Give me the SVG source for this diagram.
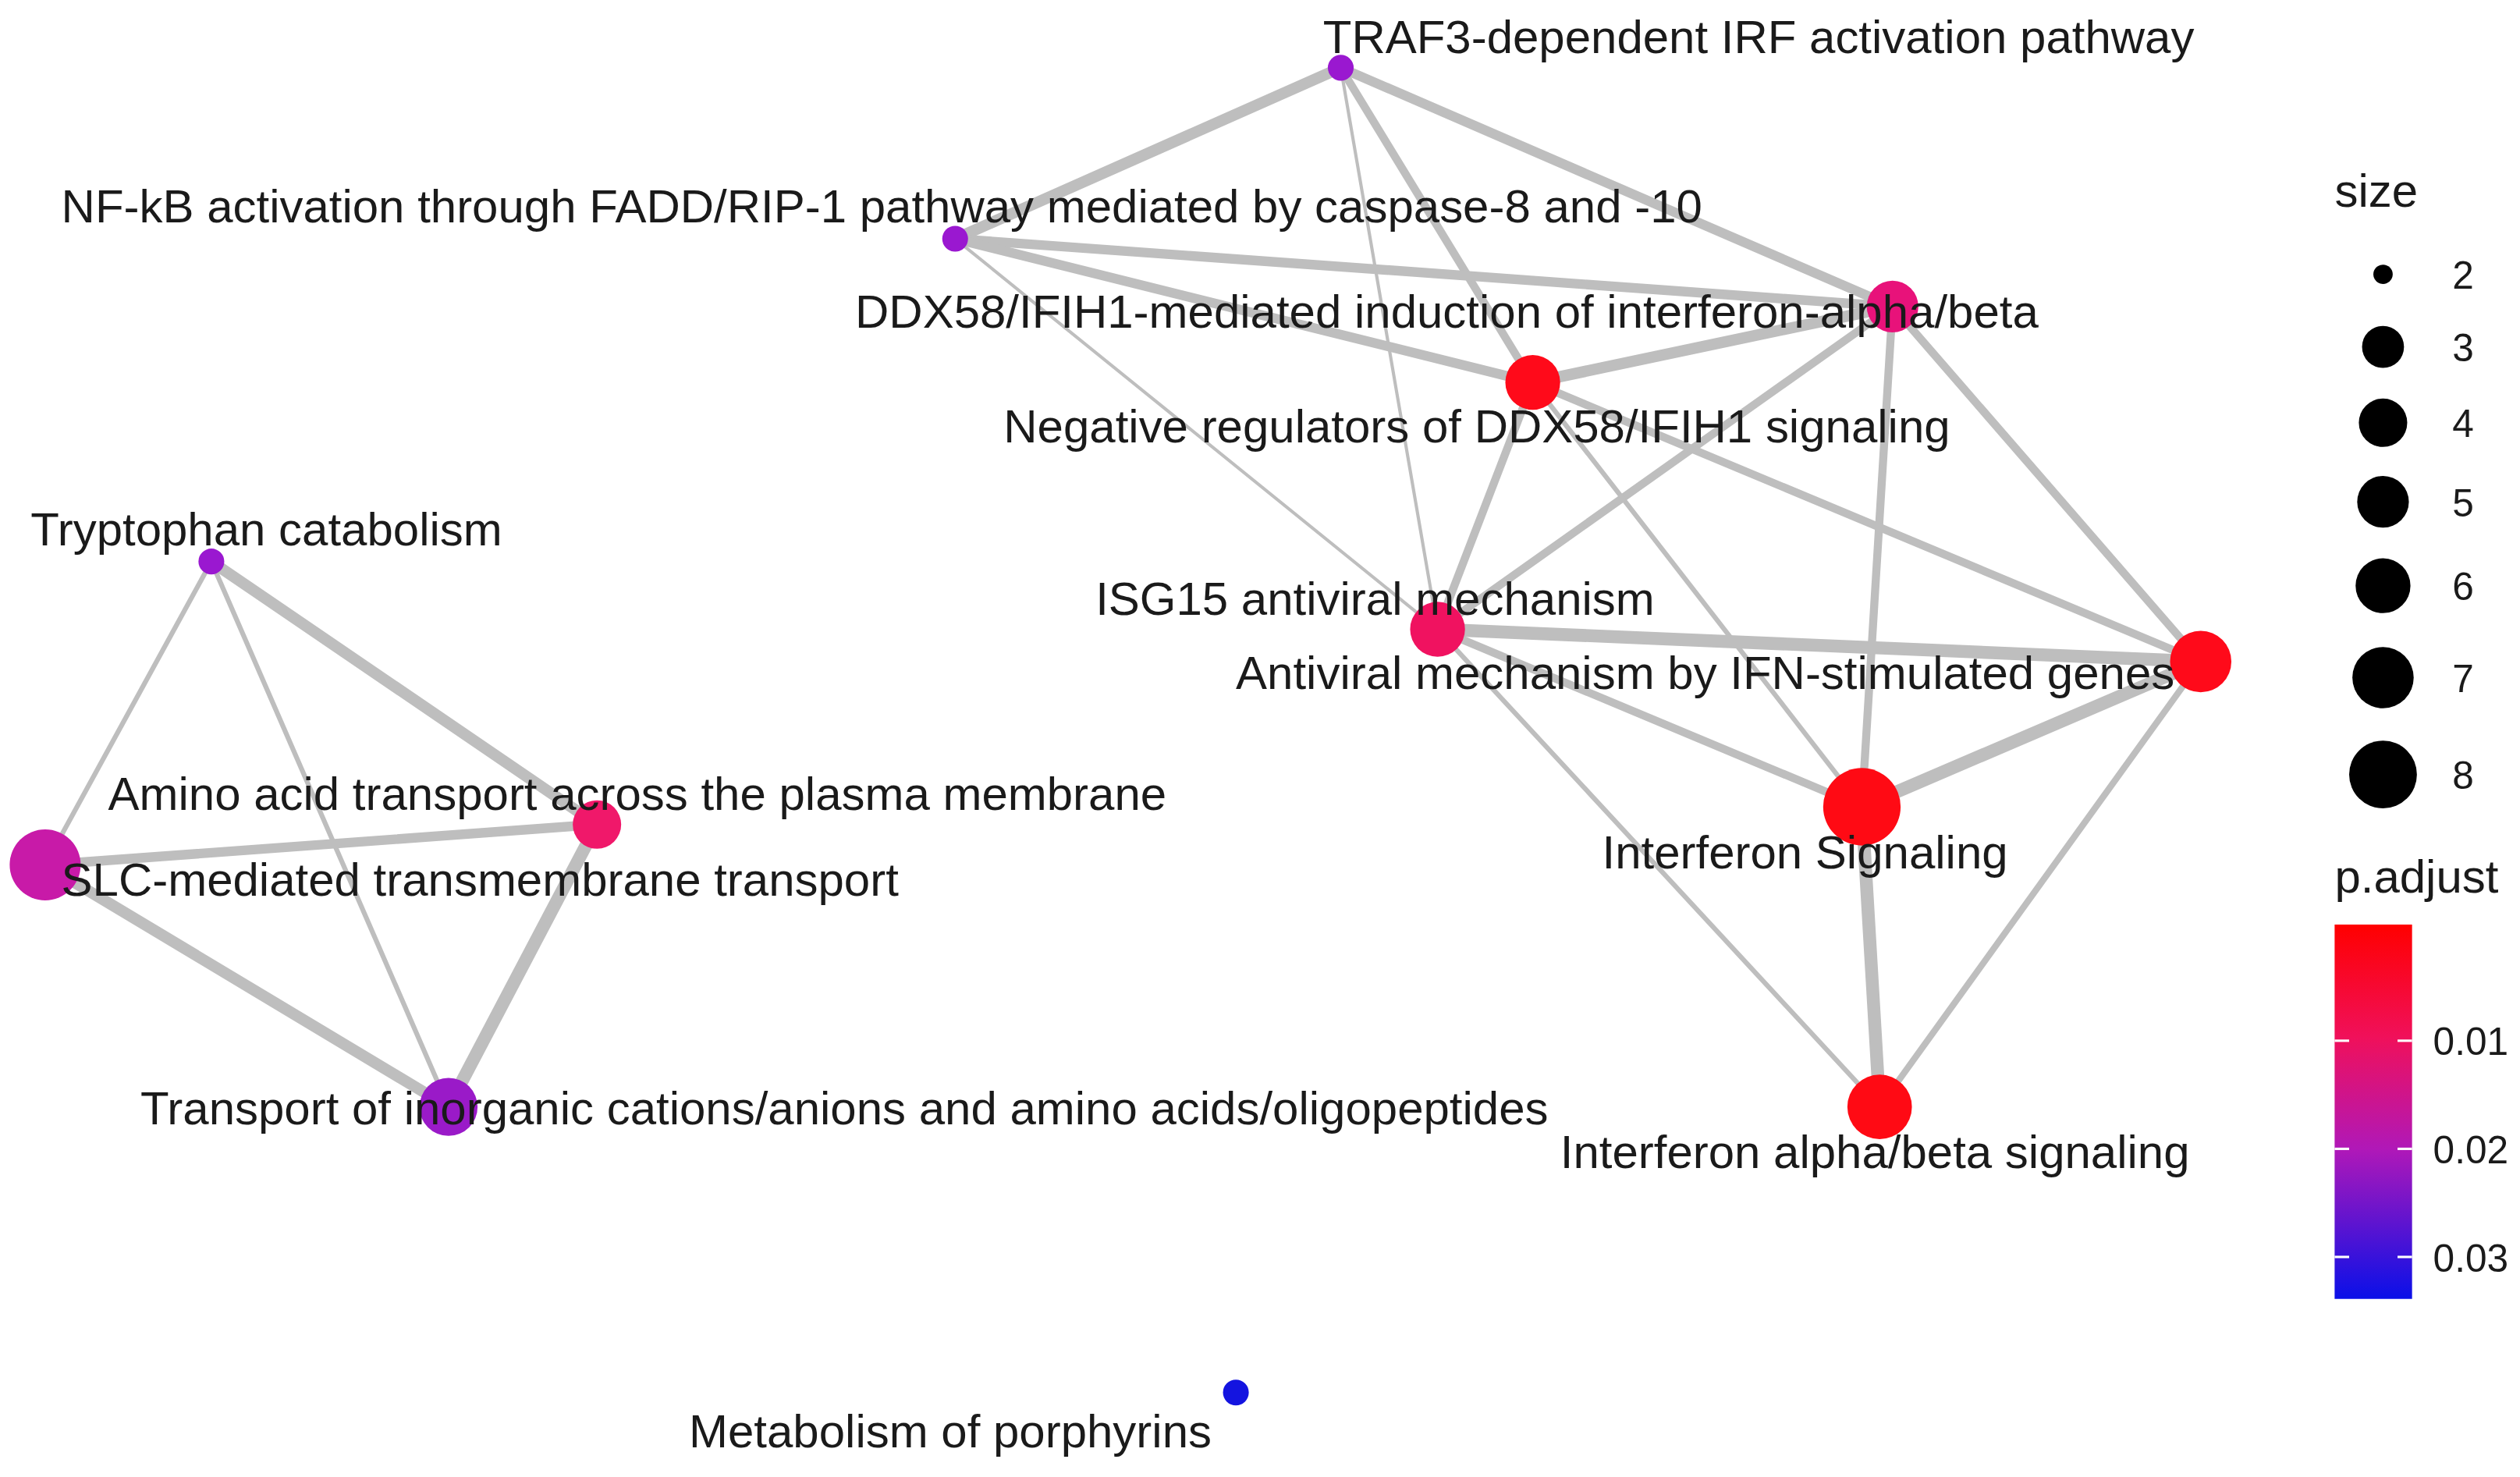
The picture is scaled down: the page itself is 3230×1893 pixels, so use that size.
<svg xmlns="http://www.w3.org/2000/svg" width="3230" height="1893" viewBox="0 0 3230 1893">
<style>
.e{stroke:#bebebe;fill:none;stroke-linecap:round}
.t{font-family:"Liberation Sans",Arial,sans-serif;font-size:29px;fill:#1a1a1a}
.l{font-family:"Liberation Sans",Arial,sans-serif;font-size:24px;fill:#1a1a1a}
</style>
<defs>
<linearGradient id="pg" x1="0" y1="0" x2="0" y2="1">
<stop offset="0" stop-color="#ff0000"/><stop offset="0.3" stop-color="#f0105a"/><stop offset="0.6" stop-color="#b018b8"/><stop offset="1" stop-color="#0a10e8"/>
</linearGradient>
</defs>
<rect width="3230" height="1893" fill="#fff"/>
<g transform="scale(2.068)">
<g id="edges">
<line class="e" stroke-width="7" x1="831" y1="42" x2="592" y2="148"/>
<line class="e" stroke-width="6" x1="831" y1="42" x2="1173" y2="190"/>
<line class="e" stroke-width="5" x1="831" y1="42" x2="950" y2="237"/>
<line class="e" stroke-width="2" x1="831" y1="42" x2="891" y2="390"/>
<line class="e" stroke-width="6" x1="592" y1="148" x2="1173" y2="190"/>
<line class="e" stroke-width="6" x1="592" y1="148" x2="950" y2="237"/>
<line class="e" stroke-width="2" x1="592" y1="148" x2="891" y2="390"/>
<line class="e" stroke-width="7" x1="1173" y1="190" x2="950" y2="237"/>
<line class="e" stroke-width="5" x1="1173" y1="190" x2="891" y2="390"/>
<line class="e" stroke-width="5" x1="1173" y1="190" x2="1364" y2="410"/>
<line class="e" stroke-width="5" x1="1173" y1="190" x2="1154" y2="500"/>
<line class="e" stroke-width="5" x1="950" y1="237" x2="891" y2="390"/>
<line class="e" stroke-width="5" x1="950" y1="237" x2="1364" y2="410"/>
<line class="e" stroke-width="3" x1="950" y1="237" x2="1154" y2="500"/>
<line class="e" stroke-width="8" x1="891" y1="390" x2="1364" y2="410"/>
<line class="e" stroke-width="5" x1="891" y1="390" x2="1154" y2="500"/>
<line class="e" stroke-width="3" x1="891" y1="390" x2="1165" y2="686"/>
<line class="e" stroke-width="8" x1="1364" y1="410" x2="1154" y2="500"/>
<line class="e" stroke-width="4" x1="1364" y1="410" x2="1165" y2="686"/>
<line class="e" stroke-width="8" x1="1154" y1="500" x2="1165" y2="686"/>
<line class="e" stroke-width="7" x1="131" y1="348" x2="370" y2="511"/>
<line class="e" stroke-width="3" x1="131" y1="348" x2="28" y2="536"/>
<line class="e" stroke-width="3" x1="131" y1="348" x2="278" y2="686"/>
<line class="e" stroke-width="6" x1="28" y1="536" x2="370" y2="511"/>
<line class="e" stroke-width="7" x1="28" y1="536" x2="278" y2="686"/>
<line class="e" stroke-width="8" x1="370" y1="511" x2="278" y2="686"/>
</g>
<g id="n-traf3"><circle cx="831" cy="42" r="8" fill="#9a18d0"/><text class="t" x="820" y="33">TRAF3-dependent IRF activation pathway</text></g>
<g id="n-nfkb"><circle cx="592" cy="148" r="8" fill="#9a18d0"/><text class="t" x="38" y="138">NF-kB activation through FADD/RIP-1 pathway mediated by caspase-8 and -10</text></g>
<g id="n-ddx58"><circle cx="1173" cy="190" r="16" fill="#e8127a"/><text class="t" x="530" y="203">DDX58/IFIH1-mediated induction of interferon-alpha/beta</text></g>
<g id="n-neg"><circle cx="950" cy="237" r="17" fill="#ff0a1a"/><text class="t" x="622" y="274">Negative regulators of DDX58/IFIH1 signaling</text></g>
<g id="n-isg15"><circle cx="891" cy="390" r="17" fill="#f01260"/><text class="t" x="679" y="381">ISG15 antiviral mechanism</text></g>
<g id="n-antiviral"><circle cx="1364" cy="410" r="19" fill="#ff0a1a"/><text class="t" x="766" y="427">Antiviral mechanism by IFN-stimulated genes</text></g>
<g id="n-ifnsig"><circle cx="1154" cy="500" r="24" fill="#ff0a14"/><text class="t" x="993" y="538">Interferon Signaling</text></g>
<g id="n-ifnab"><circle cx="1165" cy="686" r="20" fill="#ff0a14"/><text class="t" x="967" y="724">Interferon alpha/beta signaling</text></g>
<g id="n-tryp"><circle cx="131" cy="348" r="8" fill="#9a18d0"/><text class="t" x="19" y="338">Tryptophan catabolism</text></g>
<g id="n-amino"><circle cx="370" cy="511" r="15" fill="#f0186a"/><text class="t" x="67" y="502">Amino acid transport across the plasma membrane</text></g>
<g id="n-slc"><circle cx="28" cy="536" r="22" fill="#c81aa8"/><text class="t" x="38" y="555">SLC-mediated transmembrane transport</text></g>
<g id="n-transport"><circle cx="278" cy="686" r="18" fill="#9a1ac8"/><text class="t" x="87" y="697">Transport of inorganic cations/anions and amino acids/oligopeptides</text></g>
<g id="n-metab"><circle cx="766" cy="863" r="8" fill="#1414e0"/><text class="t" x="427" y="897">Metabolism of porphyrins</text></g>
<g id="legend">
<text class="t" x="1447" y="128">size</text>
<circle cx="1477" cy="170" r="6"/><text class="l" x="1520" y="179">2</text>
<circle cx="1477" cy="215" r="13"/><text class="l" x="1520" y="224">3</text>
<circle cx="1477" cy="262" r="15"/><text class="l" x="1520" y="271">4</text>
<circle cx="1477" cy="311" r="16"/><text class="l" x="1520" y="320">5</text>
<circle cx="1477" cy="363" r="17"/><text class="l" x="1520" y="372">6</text>
<circle cx="1477" cy="420" r="19"/><text class="l" x="1520" y="429">7</text>
<circle cx="1477" cy="480" r="21"/><text class="l" x="1520" y="489">8</text>
<text class="t" x="1447" y="553">p.adjust</text>
<rect x="1447" y="573" width="48" height="232" fill="url(#pg)"/>
<g stroke="#fff" stroke-width="1.5"><line x1="1447" y1="645" x2="1456" y2="645"/><line x1="1486" y1="645" x2="1495" y2="645"/><line x1="1447" y1="712" x2="1456" y2="712"/><line x1="1486" y1="712" x2="1495" y2="712"/><line x1="1447" y1="779" x2="1456" y2="779"/><line x1="1486" y1="779" x2="1495" y2="779"/></g>
<text class="l" x="1508" y="654">0.01</text>
<text class="l" x="1508" y="721">0.02</text>
<text class="l" x="1508" y="788">0.03</text>
</g>
</g>
</svg>
